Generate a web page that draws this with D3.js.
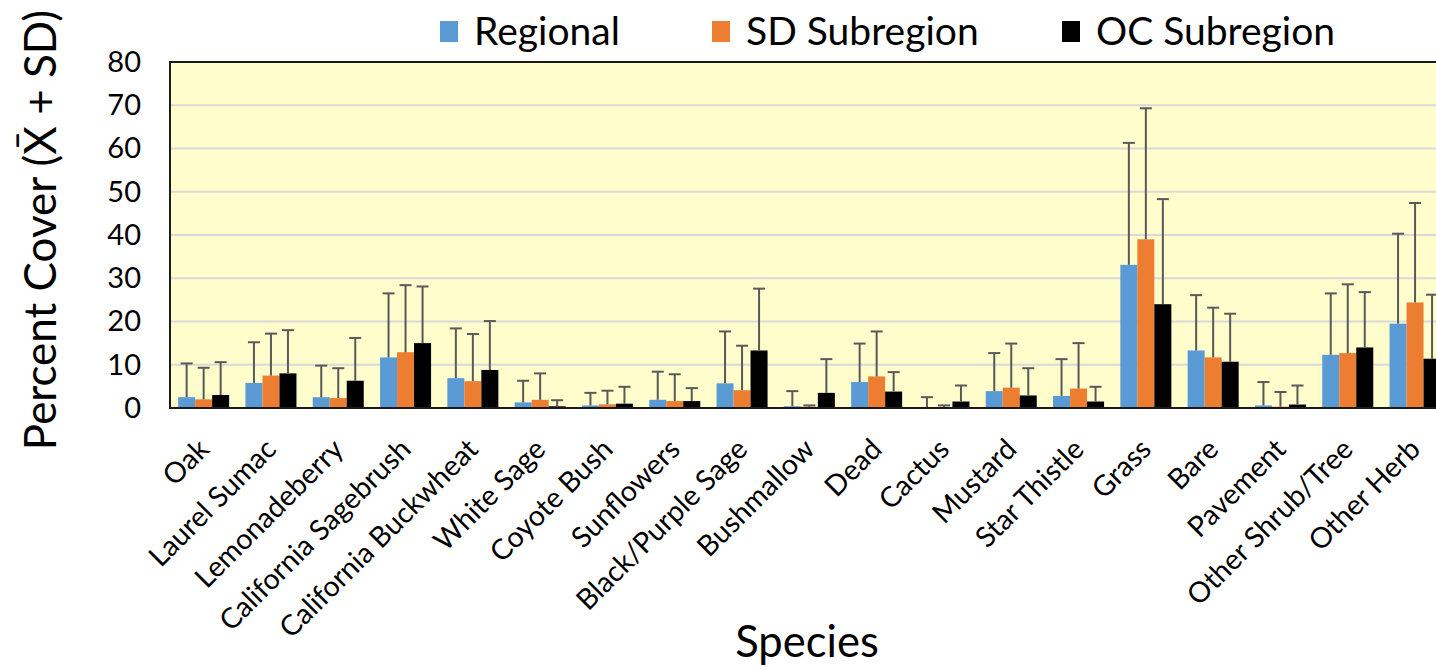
<!DOCTYPE html>
<html><head><meta charset="utf-8">
<script src="https://cdn.jsdelivr.net/npm/d3@7"></script>
<style>
html,body{margin:0;padding:0;background:#fff;overflow:hidden;}
svg{display:block;font-family:Lato,"Open Sans",sans-serif;}
</style></head><body>
<svg id="chart" width="1436" height="669"></svg>
<script>
const categories = ["Oak","Laurel Sumac","Lemonadeberry","California Sagebrush","California Buckwheat","White Sage","Coyote Bush","Sunflowers","Black/Purple Sage","Bushmallow","Dead","Cactus","Mustard","Star Thistle","Grass","Bare","Pavement","Other Shrub/Tree","Other Herb"];
const seriesNames = ["Regional","SD Subregion","OC Subregion"];
const seriesColors = ["#5B9BD5","#ED7D31","#000000"];
const regionalMean = [2.5,5.8,2.5,11.7,6.9,1.3,0.6,1.9,5.7,0.4,6.0,0.1,3.9,2.8,33.1,13.3,0.6,12.3,19.5];
const regionalSD   = [7.8,9.4,7.3,14.8,11.5,5.0,2.9,6.5,12.0,3.5,8.9,2.4,8.8,8.5,28.2,12.8,5.4,14.2,20.8];
const sdMean = [2.0,7.5,2.3,12.9,6.2,1.9,0.85,1.6,4.1,0.3,7.3,0.05,4.7,4.5,39.0,11.7,0.3,12.7,24.4];
const sdSD   = [7.3,9.7,6.9,15.5,10.9,6.1,3.15,6.2,10.3,0.3,10.4,0.55,10.2,10.5,30.3,11.5,3.4,15.9,23.0];
const ocMean = [3.0,8.0,6.3,15.0,8.8,0.4,1.0,1.6,13.3,3.5,3.8,1.5,2.9,1.5,24.0,10.7,0.8,14.0,11.4];
const ocSD   = [7.6,10.0,9.9,13.1,11.3,1.4,3.9,3.0,14.3,7.8,4.5,3.7,6.3,3.4,24.3,11.1,4.4,12.8,14.8];
const yTicks = [0,10,20,30,40,50,60,70,80];
const means = [regionalMean, sdMean, ocMean];
const sds = [regionalSD, sdSD, ocSD];

const svg = d3.select("#chart");
const mLeft = 170, mTop = 62, mBottom = 408, step = 67.3;
const mRight = mLeft + step * categories.length;

const x0 = d3.scaleBand().domain(categories).range([mLeft, mRight]).paddingInner(0.242).paddingOuter(0.121);
const x1 = d3.scaleBand().domain(seriesNames).range([0, x0.bandwidth()]);
const y = d3.scaleLinear().domain([0, 80]).range([mBottom, mTop]);

// plot background
svg.append("rect").attr("x", mLeft).attr("y", mTop).attr("width", mRight - mLeft).attr("height", mBottom - mTop).attr("fill", "#FFFDCC");

// gridlines
svg.append("g").selectAll("line").data(yTicks.filter(d => d > 0 && d < 80)).join("line")
  .attr("x1", mLeft).attr("x2", mRight).attr("y1", d => y(d)).attr("y2", d => y(d))
  .attr("stroke", "#D9D9D9").attr("stroke-width", 2);

// bars
const groups = svg.append("g").selectAll("g").data(categories).join("g")
  .attr("transform", d => `translate(${x0(d)},0)`);
seriesNames.forEach((s, si) => {
  groups.append("rect")
    .attr("x", x1(s)).attr("width", x1.bandwidth())
    .attr("y", (d, i) => y(means[si][i]))
    .attr("height", (d, i) => y(0) - y(means[si][i]))
    .attr("fill", seriesColors[si]);
});
// error bars
seriesNames.forEach((s, si) => {
  const cx = x1(s) + x1.bandwidth() / 2;
  groups.append("line")
    .attr("x1", cx).attr("x2", cx)
    .attr("y1", (d, i) => y(means[si][i]))
    .attr("y2", (d, i) => y(means[si][i] + sds[si][i]))
    .attr("stroke", "#595959").attr("stroke-width", 2);
  groups.append("line")
    .attr("x1", cx - 6).attr("x2", cx + 6)
    .attr("y1", (d, i) => y(means[si][i] + sds[si][i]))
    .attr("y2", (d, i) => y(means[si][i] + sds[si][i]))
    .attr("stroke", "#595959").attr("stroke-width", 2);
});

// plot border (top, left, bottom)
svg.append("path")
  .attr("d", `M${mRight},${mTop}H${mLeft}V${mBottom}H${mRight}`)
  .attr("fill", "none").attr("stroke", "#1a1a1a").attr("stroke-width", 2);

// y axis
const yAxis = svg.append("g").attr("transform", `translate(${mLeft},0)`)
  .call(d3.axisLeft(y).tickValues(yTicks).tickSize(0).tickPadding(29));
yAxis.select(".domain").remove();
yAxis.selectAll("text").attr("font-size", 29).attr("font-family", "Lato").attr("fill", "#000");

// x axis labels
svg.append("g").selectAll("text").data(categories).join("text")
  .attr("transform", d => `translate(${x0(d) + x0.bandwidth() / 2 + 7},${mBottom + 43}) rotate(-45)`)
  .attr("text-anchor", "end")
  .attr("font-size", 28.5)
  .text(d => d);

// axis titles
svg.append("text").attr("x", 807).attr("y", 657).attr("text-anchor", "middle").attr("font-size", 43.5).text("Species");
svg.append("text").attr("transform", "translate(56,230) rotate(-90)").attr("text-anchor", "middle")
  .attr("font-size", 44).text("Percent Cover (X\u0304 + SD)");

// legend
const legX = [440, 712, 1062];
const leg = svg.append("g").selectAll("g").data(seriesNames).join("g")
  .attr("transform", (d, i) => `translate(${legX[i]},0)`);
leg.append("rect").attr("x", 0).attr("y", 21).attr("width", 18).attr("height", 21).attr("fill", (d, i) => seriesColors[i]);
leg.append("text").attr("x", 34).attr("y", 45).attr("font-size", 39).text(d => d);
</script>
</body></html>
